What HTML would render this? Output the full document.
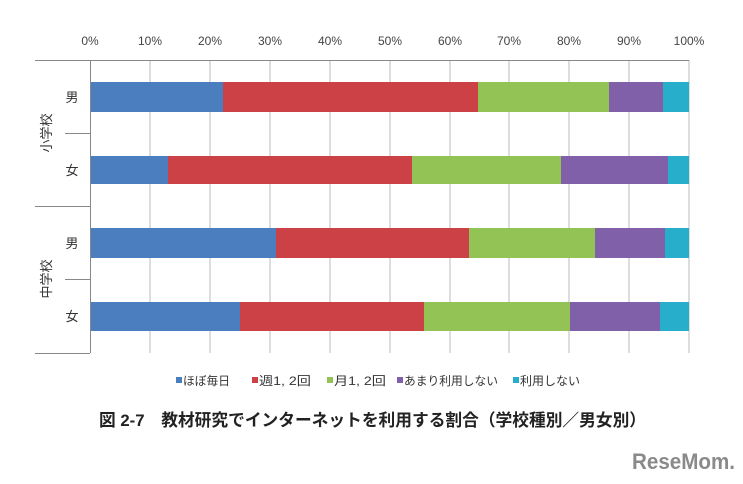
<!DOCTYPE html>
<html><head><meta charset="utf-8"><style>
body{margin:0;background:#fff;}
svg text{font-family:"Liberation Sans","Noto Sans CJK JP",sans-serif;}
</style></head><body>
<svg width="743" height="479" xmlns="http://www.w3.org/2000/svg">
<g stroke="#bbb" stroke-width="1">
<line x1="150" y1="60" x2="150" y2="353"/><line x1="210" y1="60" x2="210" y2="353"/>
<line x1="270" y1="60" x2="270" y2="353"/><line x1="330" y1="60" x2="330" y2="353"/>
<line x1="390" y1="60" x2="390" y2="353"/><line x1="450" y1="60" x2="450" y2="353"/>
<line x1="509" y1="60" x2="509" y2="353"/><line x1="569" y1="60" x2="569" y2="353"/>
<line x1="629" y1="60" x2="629" y2="353"/><line x1="689" y1="60" x2="689" y2="353"/>
</g>
<g stroke="#888" stroke-width="1">
<line x1="35" y1="60.5" x2="689" y2="60.5"/>
<line x1="90.5" y1="60" x2="90.5" y2="353"/>
<line x1="35" y1="353.5" x2="90" y2="353.5"/>
<line x1="35" y1="206.5" x2="90" y2="206.5"/>
<line x1="65" y1="133.5" x2="90" y2="133.5"/>
<line x1="65" y1="279.5" x2="90" y2="279.5"/>
</g>
<g font-size="12" fill="#444" text-anchor="middle">
<text x="90" y="45">0%</text><text x="150" y="45">10%</text><text x="210" y="45">20%</text>
<text x="270" y="45">30%</text><text x="330" y="45">40%</text><text x="390" y="45">50%</text>
<text x="450" y="45">60%</text><text x="509" y="45">70%</text><text x="569" y="45">80%</text>
<text x="629" y="45">90%</text><text x="689" y="45">100%</text>
</g>
<g>
<rect x="91" y="82" width="132" height="30" fill="#4a7ebf"/><rect x="223" y="82" width="255" height="30" fill="#cc4146"/><rect x="478" y="82" width="131" height="30" fill="#93c255"/><rect x="609" y="82" width="54" height="30" fill="#8060a8"/><rect x="663" y="82" width="26" height="30" fill="#27aecb"/>
<rect x="91" y="156" width="77" height="28" fill="#4a7ebf"/><rect x="168" y="156" width="244" height="28" fill="#cc4146"/><rect x="412" y="156" width="149" height="28" fill="#93c255"/><rect x="561" y="156" width="107" height="28" fill="#8060a8"/><rect x="668" y="156" width="21" height="28" fill="#27aecb"/>
<rect x="91" y="228" width="185" height="30" fill="#4a7ebf"/><rect x="276" y="228" width="193" height="30" fill="#cc4146"/><rect x="469" y="228" width="126" height="30" fill="#93c255"/><rect x="595" y="228" width="70" height="30" fill="#8060a8"/><rect x="665" y="228" width="24" height="30" fill="#27aecb"/>
<rect x="91" y="302" width="149" height="29" fill="#4a7ebf"/><rect x="240" y="302" width="184" height="29" fill="#cc4146"/><rect x="424" y="302" width="146" height="29" fill="#93c255"/><rect x="570" y="302" width="90" height="29" fill="#8060a8"/><rect x="660" y="302" width="29" height="29" fill="#27aecb"/>
</g>
<g font-size="13" fill="#333" text-anchor="middle">
<text x="72" y="102">男</text><text x="72" y="175">女</text>
<text x="72" y="248">男</text><text x="72" y="321">女</text>
<text transform="translate(51,133) rotate(-90)" font-size="13">小学校</text>
<text transform="translate(51,279) rotate(-90)" font-size="13">中学校</text>
</g>
<g font-size="12" fill="#333">
<rect x="176" y="377" width="6" height="6" fill="#4a7ebf"/><text x="183" y="385" textLength="47" lengthAdjust="spacingAndGlyphs">ほぼ毎日</text>
<rect x="252" y="377" width="6" height="6" fill="#cc4146"/><text x="259" y="385" textLength="52" lengthAdjust="spacingAndGlyphs">週1, 2回</text>
<rect x="327" y="377" width="6" height="6" fill="#93c255"/><text x="334" y="385" textLength="52" lengthAdjust="spacingAndGlyphs">月1, 2回</text>
<rect x="397" y="377" width="6" height="6" fill="#8060a8"/><text x="404" y="385" textLength="94" lengthAdjust="spacingAndGlyphs">あまり利用しない</text>
<rect x="513" y="377" width="6" height="6" fill="#27aecb"/><text x="520" y="385" textLength="60" lengthAdjust="spacingAndGlyphs">利用しない</text>
</g>
<text x="99" y="426" font-size="17" font-weight="bold" fill="#222" textLength="547" lengthAdjust="spacingAndGlyphs">図 2-7　教材研究でインターネットを利用する割合（学校種別／男女別）</text>
<text x="632" y="469" font-size="22" font-weight="bold" fill="#8a8a8a" textLength="103" lengthAdjust="spacingAndGlyphs">ReseMom.</text>
</svg>
</body></html>
